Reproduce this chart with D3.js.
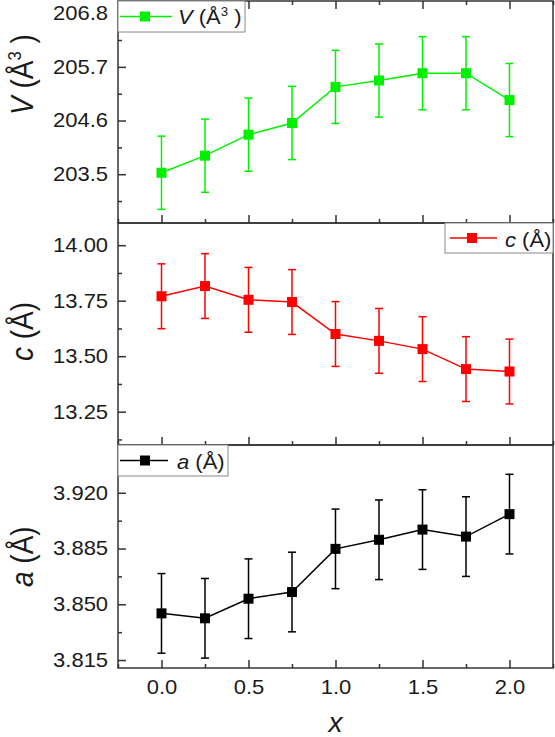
<!DOCTYPE html>
<html>
<head>
<meta charset="utf-8">
<script src="https://cdn.jsdelivr.net/npm/d3@7"></script>
<style>
  body { margin: 0; background: #fff; }
  svg { display: block; font-family: "Liberation Sans", Arial, sans-serif; }
</style>
</head>
<body>
<svg width="555" height="737"></svg>
<script>
// data
const xValues = [0, 0.25, 0.5, 0.75, 1.0, 1.25, 1.5, 1.75, 2.0]
const volume = [203.53, 203.88, 204.31, 204.55, 205.29, 205.42, 205.57, 205.57, 205.02]
const volumeErr = [0.75, 0.75, 0.75, 0.75, 0.75, 0.75, 0.75, 0.75, 0.75]
const cParam = [13.770, 13.816, 13.754, 13.744, 13.600, 13.569, 13.532, 13.442, 13.431]
const cErr = [0.146, 0.146, 0.146, 0.146, 0.146, 0.146, 0.146, 0.146, 0.146]
const aParam = [3.8443, 3.8412, 3.8535, 3.8577, 3.8848, 3.8905, 3.8969, 3.8925, 3.9066]
const aErr = [0.025, 0.025, 0.025, 0.025, 0.025, 0.025, 0.025, 0.025, 0.025]

const xTicks = [0, 0.5, 1.0, 1.5, 2.0]
const xMinor = [-0.25, 0.25, 0.75, 1.25, 1.75, 2.25]
const volTicks = [203.5, 204.6, 205.7, 206.8]
const volMinor = [202.95, 204.05, 205.15, 206.25]
const cTicks = [13.25, 13.50, 13.75, 14.00]
const cMinor = [13.125, 13.375, 13.625, 13.875]
const aTicks = [3.815, 3.850, 3.885, 3.920]
const aMinor = [3.8325, 3.8675, 3.9025, 3.9375]

const svg = d3.select("svg")
const left = 118, right = 553
const SX = 1.1   // the original's text is a bit wide

const x = d3.scaleLinear().domain([-0.25, 2.25]).range([left, right])

const panels = [
    { top: 1, bottom: 223, domain: [202.5, 207.05], values: volume, err: volumeErr,
      ticks: volTicks, minor: volMinor, fmt: d3.format(".1f"), color: "#00f000",
      label: "V", topTicks: true, xLabels: false, labelStart: 115,
      legend: { x0: 118, x1: 245, y0: 1, y1: 32, line: [118, 172], marker: 145, text: 178, base: 24 } },
    { top: 223, bottom: 445, domain: [13.1, 14.1], values: cParam, err: cErr,
      ticks: cTicks, minor: cMinor, fmt: d3.format(".2f"), color: "#ff0000",
      label: "c", topTicks: false, xLabels: false, labelStart: 361,
      legend: { x0: 445, x1: 553, y0: 223, y1: 253, line: [448, 497], marker: 472, text: 505, base: 247 } },
    { top: 445, bottom: 668, domain: [3.81, 3.95], values: aParam, err: aErr,
      ticks: aTicks, minor: aMinor, fmt: d3.format(".3f"), color: "#000000",
      label: "a", topTicks: false, xLabels: true, labelStart: 587,
      legend: { x0: 118, x1: 228, y0: 445, y1: 476, line: [118, 168], marker: 145, text: 177, base: 469 } }
]

function unitText(sel, name, size, sup) {
    sel.append("tspan").attr("font-style", "italic").text(name)
    sel.append("tspan").text(" (Å")
    if (sup) {
        sel.append("tspan").attr("font-size", size * 0.6).attr("dy", -size * 0.38).text("3")
        sel.append("tspan").attr("dy", size * 0.38).text(" )")
    } else {
        sel.append("tspan").text(")")
    }
}

panels.forEach(p => {
    const y = d3.scaleLinear().domain(p.domain).range([p.bottom, p.top])
    const g = svg.append("g")

    // left axis, ticks point inward
    const ya = g.append("g").attr("transform", `translate(${left},0)`)
        .call(d3.axisLeft(y).tickValues(p.ticks).tickFormat(p.fmt).tickSize(-8).tickPadding(9))
    ya.selectAll("text").attr("font-size", 20).attr("fill", "#1a1a1a")
        .attr("transform", `scale(${SX},1)`)
    g.append("g").attr("transform", `translate(${left},0)`)
        .call(d3.axisLeft(y).tickValues(p.minor.filter(v => v > p.domain[0] && v < p.domain[1]))
            .tickFormat("").tickSize(-4))

    // bottom axis
    const xa = g.append("g").attr("transform", `translate(0,${p.bottom})`)
        .call(d3.axisBottom(x).tickValues(xTicks).tickFormat(p.xLabels ? d3.format(".1f") : "")
            .tickSize(-8).tickPadding(12))
    xa.selectAll("text").attr("font-size", 20).attr("fill", "#1a1a1a")
        .attr("transform", `scale(${SX},1)`)
    g.append("g").attr("transform", `translate(0,${p.bottom})`)
        .call(d3.axisBottom(x).tickValues(xMinor).tickFormat("").tickSize(-4))

    if (p.topTicks) {
        g.append("g").attr("transform", `translate(0,${p.top})`)
            .call(d3.axisTop(x).tickValues(xTicks).tickFormat("").tickSize(-8))
        g.append("g").attr("transform", `translate(0,${p.top})`)
            .call(d3.axisTop(x).tickValues(xMinor).tickFormat("").tickSize(-4))
    }
    g.selectAll(".domain").remove()
    g.selectAll(".tick line").attr("stroke", "#333").attr("stroke-width", 1.5)

    // frame
    g.append("rect")
        .attr("x", left).attr("y", p.top)
        .attr("width", right - left).attr("height", p.bottom - p.top)
        .attr("fill", "none").attr("stroke", "#333").attr("stroke-width", 1.5)

    // error bars
    const bars = g.append("g").attr("stroke", p.color).attr("stroke-width", 1.5)
    xValues.forEach((xv, i) => {
        const yt = y(p.values[i] + p.err[i]), yb = y(p.values[i] - p.err[i])
        bars.append("line").attr("x1", x(xv)).attr("x2", x(xv)).attr("y1", yt).attr("y2", yb)
        bars.append("line").attr("x1", x(xv) - 4).attr("x2", x(xv) + 4).attr("y1", yt).attr("y2", yt)
        bars.append("line").attr("x1", x(xv) - 4).attr("x2", x(xv) + 4).attr("y1", yb).attr("y2", yb)
    })

    // line + square markers
    const line = d3.line().x((d, i) => x(xValues[i])).y(d => y(d))
    g.append("path").datum(p.values)
        .attr("d", line).attr("fill", "none")
        .attr("stroke", p.color).attr("stroke-width", 1.5)
    g.selectAll(".pt").data(p.values).enter().append("rect")
        .attr("x", (d, i) => x(xValues[i]) - 5)
        .attr("y", d => y(d) - 5)
        .attr("width", 10).attr("height", 10)
        .attr("fill", p.color)

    // legend
    const L = p.legend
    const ly = (L.y0 + L.y1) / 2
    g.append("rect").attr("x", L.x0).attr("y", L.y0)
        .attr("width", L.x1 - L.x0).attr("height", L.y1 - L.y0)
        .attr("fill", "#fff").attr("stroke", "#888").attr("stroke-width", 1)
    g.append("line").attr("x1", L.line[0] + 2).attr("x2", L.line[1])
        .attr("y1", ly).attr("y2", ly).attr("stroke", p.color).attr("stroke-width", 1.5)
    g.append("rect").attr("x", L.marker - 5).attr("y", ly - 5)
        .attr("width", 10).attr("height", 10).attr("fill", p.color)
    g.append("text")
        .attr("transform", `translate(${L.text},${L.base}) scale(${SX},1)`)
        .attr("font-size", 20).attr("fill", "#1a1a1a")
        .call(unitText, p.label, 20, p.label === "V")

    // y label
    svg.append("text")
        .attr("transform", `translate(33,${p.labelStart}) scale(${SX},1) rotate(-90)`)
        .attr("font-size", 28).attr("fill", "#1a1a1a")
        .call(unitText, p.label, 28, p.label === "V")
})

svg.append("text")
    .attr("x", x(1.0)).attr("y", 732)
    .attr("text-anchor", "middle")
    .attr("font-size", 28).attr("font-style", "italic").attr("fill", "#1a1a1a")
    .text("x")
</script>
</body>
</html>
